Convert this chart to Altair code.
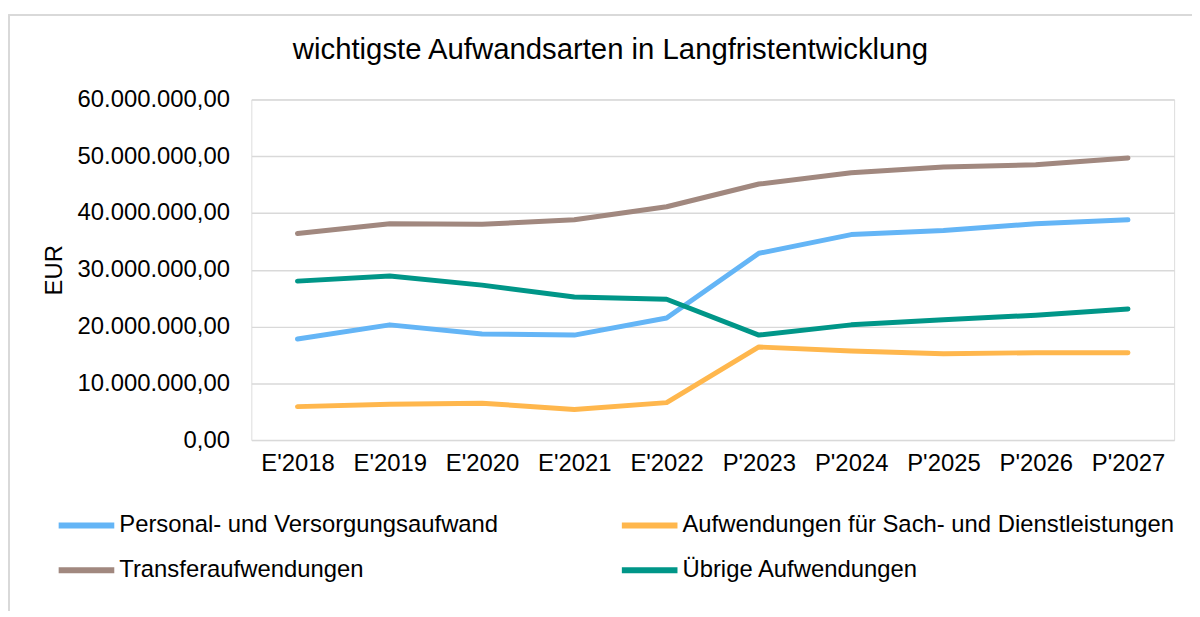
import altair as alt
import pandas as pd

years = ["E'2018", "E'2019", "E'2020", "E'2021", "E'2022",
         "P'2023", "P'2024", "P'2025", "P'2026", "P'2027"]

series_names = [
    "Personal- und Versorgungsaufwand",
    "Aufwendungen für Sach- und Dienstleistungen",
    "Transferaufwendungen",
    "Übrige Aufwendungen",
]

personal = [17.8e6, 20.3e6, 18.7e6, 18.5e6, 21.5e6, 32.9e6, 36.2e6, 36.9e6, 38.1e6, 38.8e6]
sach = [5.9e6, 6.3e6, 6.5e6, 5.4e6, 6.6e6, 16.4e6, 15.7e6, 15.2e6, 15.4e6, 15.4e6]
transfer = [36.4e6, 38.1e6, 38.0e6, 38.8e6, 41.1e6, 45.1e6, 47.1e6, 48.1e6, 48.5e6, 49.7e6]
uebrige = [28.0e6, 28.9e6, 27.3e6, 25.2e6, 24.8e6, 18.5e6, 20.3e6, 21.2e6, 22.0e6, 23.1e6]

colors = ["#64B5F6", "#FFB74D", "#A1887F", "#009688"]

rows = []
for name, vals in zip(series_names, [personal, sach, transfer, uebrige]):
    for y, v in zip(years, vals):
        rows.append({"Jahr": y, "Serie": name, "Wert": v})
df = pd.DataFrame(rows)

FONT = "Liberation Sans"
W, H = 929, 343

lines = alt.Chart(df).mark_line(strokeWidth=5, strokeCap="round", strokeJoin="round").encode(
    x=alt.X("Jahr:N", sort=years, scale=alt.Scale(padding=0.5),
            axis=alt.Axis(title=None, labelAngle=0, labelFontSize=24, labelFont=FONT,
                          labelColor="#000000", labelPadding=12, domain=False, ticks=False,
                          grid=False)),
    y=alt.Y("Wert:Q", scale=alt.Scale(domain=[0, 60e6], nice=False),
            axis=alt.Axis(title="EUR", values=[0, 10e6, 20e6, 30e6, 40e6, 50e6, 60e6],
                          format=",.2f", labelFontSize=24, labelFont=FONT, labelColor="#000000",
                          labelPadding=22, domain=False, ticks=False, grid=True,
                          gridColor="#d9d9d9", gridWidth=1.5,
                          titleFontSize=24, titleFont=FONT, titleFontWeight="normal",
                          titleColor="#000000", titleX=-198, titleY=H / 2,
                          titleAngle=270, titleBaseline="middle", titleAlign="center")),
    color=alt.Color("Serie:N", sort=series_names,
                    scale=alt.Scale(domain=series_names, range=colors),
                    legend=alt.Legend(title=None, orient="none", legendX=-197, legendY=398,
                                      direction="horizontal", columns=2, columnPadding=112,
                                      rowPadding=2, symbolType="stroke", symbolSize=3136,
                                      symbolStrokeWidth=6, labelFontSize=24, labelFont=FONT,
                                      labelColor="#000000", labelOffset=2, labelLimit=0)),
)

frame_top = alt.Chart(df).mark_rule(color="#d9d9d9", strokeWidth=1.5).encode(
    x=alt.value(-244.25), x2=alt.value(W + 30), y=alt.value(-85)
)
frame_left = alt.Chart(df).mark_rule(color="#d9d9d9", strokeWidth=1.5).encode(
    x=alt.value(-244.25), y=alt.value(-85), y2=alt.value(530)
)

chart = alt.layer(frame_top, frame_left, lines).properties(
    width=W, height=H,
    title=alt.Title("wichtigste Aufwandsarten in Langfristentwicklung", fontSize=29.5,
                    font=FONT, fontWeight="normal", color="#000000", anchor="middle",
                    frame="group", dx=-103, offset=0, dy=75, baseline="alphabetic"),
    autosize=alt.AutoSizeParams(type="none"),
    padding={"left": 245, "top": 90, "right": 18, "bottom": 170},
).configure_view(stroke=None).configure(
    locale={"number": {"decimal": ",", "thousands": ".", "grouping": [3], "currency": ["", " €"]}}
)

chart.save("out.html", embed_options={"renderer": "svg", "actions": False})
